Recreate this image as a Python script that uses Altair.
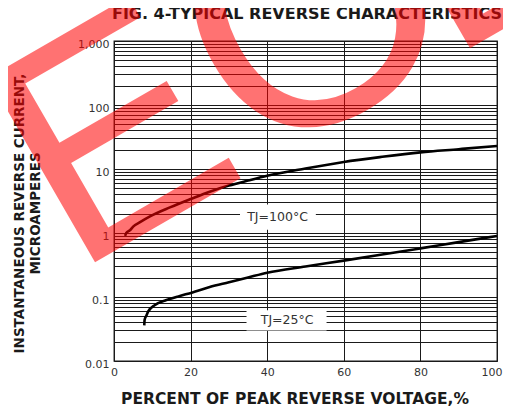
import altair as alt
import pandas as pd

# ---- data ----
x_100 = [2.9, 3.2, 4.2, 5.0, 6.8, 9.4, 14.6, 20, 25, 30, 35, 40, 50, 60, 70, 80, 90, 100]
y_100 = [0.9, 1.0, 1.11, 1.26, 1.48, 1.82, 2.51, 3.39, 4.42, 5.5, 6.6, 7.85, 10.2, 12.9, 15.5, 18.2, 20.4, 22.9]

x_25 = [7.9, 8.0, 8.5, 8.9, 10.7, 13.7, 17.2, 20.3, 25, 30, 35, 40, 50, 60, 70, 80, 90, 100]
y_25 = [0.036, 0.044, 0.052, 0.059, 0.075, 0.090, 0.104, 0.117, 0.143, 0.17, 0.202, 0.24, 0.30, 0.37, 0.46, 0.575, 0.72, 0.90]

labels = ["TJ=100°C", "TJ=25°C"]
label_x = [42.7, 45.2]
label_y = [1.8, 0.043]
box_x1 = [32.9, 34.6]
box_x2 = [52.7, 55.5]
box_y1 = [1.12, 0.03]
box_y2 = [2.8, 0.062]

x_ticks = [0, 20, 40, 60, 80, 100]
decades = [0.01, 0.1, 1, 10, 100, 1000]
y_grid = sorted(set([round(d * k, 6) for d in decades[:-1] for k in range(1, 10)] + [1000]))

title_text = "FIG. 4-TYPICAL REVERSE CHARACTERISTICS"
x_title = "PERCENT OF PEAK REVERSE VOLTAGE,%"
y_title = ["INSTANTANEOUS REVERSE CURRENT,", "MICROAMPERES"]
watermark_letters = ["E", "O", "L"]

FONT = "DejaVu Sans"
WM_FONT = "Liberation Sans"

curves = pd.DataFrame({
    "x": x_100 + x_25,
    "y": y_100 + y_25,
    "series": ["100"] * len(x_100) + ["25"] * len(x_25),
})
ann = pd.DataFrame({"label": labels, "lx": label_x, "ly": label_y,
                    "bx1": box_x1, "bx2": box_x2, "by1": box_y1, "by2": box_y2})

xscale = alt.Scale(domain=[0, 100], nice=False, zero=False)
yscale = alt.Scale(type="log", domain=[0.01, 1000], nice=False)

xaxis = alt.Axis(values=x_ticks, grid=True, ticks=False, domain=False,
                 labelPadding=5, labelFontSize=11, labelColor="#333", labelFont=FONT,
                 labelAlign=alt.expr("datum.value == 100 ? 'right' : 'center'"),
                 labelOffset=alt.expr("datum.value == 100 ? 5 : 0"),
                 title=x_title, titleFont=FONT, titleFontSize=15.5, titleFontWeight="bold",
                 titleColor="#1a1a1a", titleX=180.5, titleY=37.5, titleAlign="center",
                 titleBaseline="middle", labelFlush=False)
yaxis = alt.Axis(values=y_grid, grid=True, ticks=False, domain=False,
                 labelPadding=5, labelFontSize=11, labelColor="#333", labelFont=FONT,
                 labelOffset=3,
                 labelExpr="abs(log(datum.value)/LN10 - round(log(datum.value)/LN10)) < 1e-6 ? format(datum.value, ',~g') : ''",
                 title=y_title, titleFont=FONT, titleFontSize=13.5, titleFontWeight="bold",
                 titleColor="#1a1a1a", titleAngle=270, titleX=-95, titleY=172,
                 titleAlign="center", titleBaseline="middle", titleLineHeight=16,
                 labelFlush=False)

lines = alt.Chart(curves).mark_line(color="black", strokeWidth=2.6, interpolate="monotone").encode(
    x=alt.X("x:Q", scale=xscale, axis=xaxis),
    y=alt.Y("y:Q", scale=yscale, axis=yaxis),
    detail="series:N",
)

boxes = alt.Chart(ann).mark_rect(color="white").encode(
    x=alt.X("bx1:Q", scale=xscale), x2="bx2:Q",
    y=alt.Y("by1:Q", scale=yscale), y2="by2:Q",
)

texts = alt.Chart(ann).mark_text(font=FONT, fontSize=12.5, color="#333",
                                 align="center", baseline="middle").encode(
    x=alt.X("lx:Q", scale=xscale), y=alt.Y("ly:Q", scale=yscale), text="label:N",
)

title = alt.Chart(pd.DataFrame({"t": [title_text]})).mark_text(
    font=FONT, fontSize=16, fontWeight="bold", color="#1a1a1a",
    align="center", baseline="middle").encode(
    text="t:N", x=alt.value(193), y=alt.value(-27.5))


def wm_letter(ch, size, px, py):
    return alt.Chart(pd.DataFrame({"t": [ch]})).mark_text(
        font=WM_FONT, fontSize=size, color="#ff0000", opacity=0.55,
        align="left", baseline="alphabetic", angle=330).encode(
        text="t:N", x=alt.value(px), y=alt.value(py))


wm = [wm_letter(watermark_letters[0], 310, -41, 234),
      wm_letter(watermark_letters[1], 325, 143, 129),
      wm_letter(watermark_letters[2], 310, 334, 20)]

chart = alt.layer(boxes, lines, texts, title, *wm).properties(
    width=383, height=320,
    autosize=alt.AutoSizeParams(type="none"),
    padding={"left": 106, "top": 33, "right": 6, "bottom": 45},
).configure_view(stroke="#1a1a1a", strokeWidth=1.3).configure_axis(
    gridColor="#1a1a1a", gridWidth=1, gridOpacity=1)

chart.save("out.html", embed_options={"renderer": "svg", "actions": False})
